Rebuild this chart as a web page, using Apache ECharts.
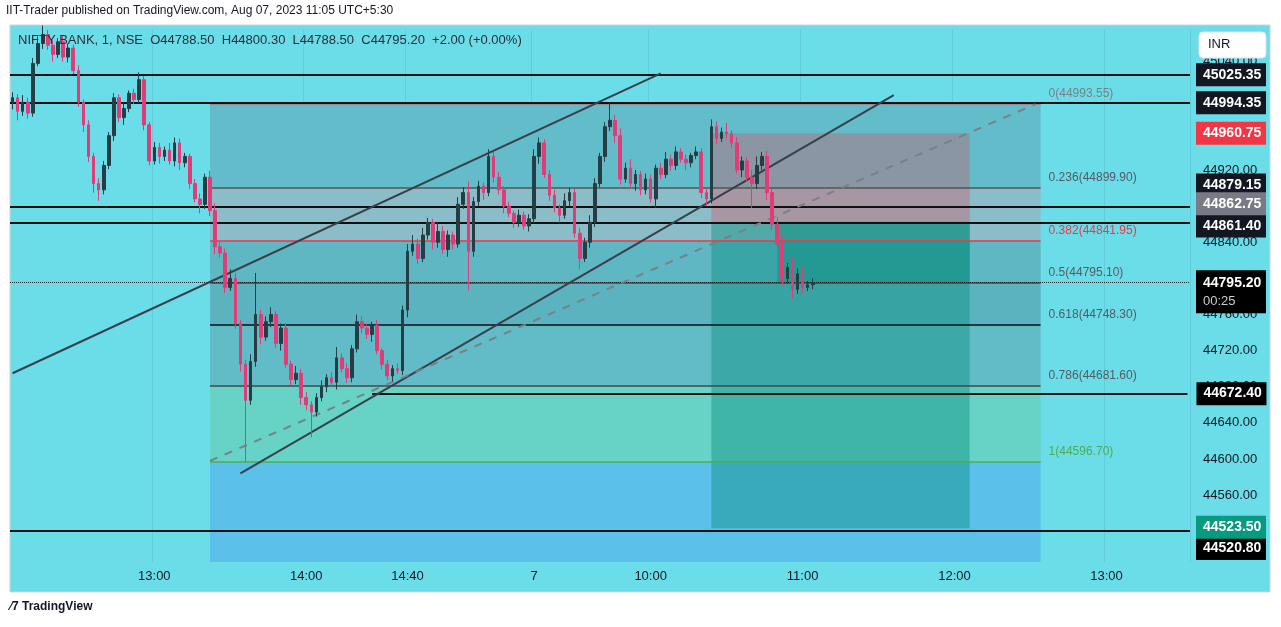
<!DOCTYPE html>
<html><head><meta charset="utf-8">
<script src="https://cdn.jsdelivr.net/npm/echarts@6/dist/echarts.min.js"></script>
<style>html,body{margin:0;padding:0;background:#fff}#c{width:1281px;height:627px}</style>
</head><body><div id="c"></div>
<script>
const closes=[45000,44985,44995,44983,45038,45060,45070,45058,45048,45062,
45045,45055,45030,44995,44970,44935,44905,44898,44925,44958,
45000,44978,44988,45005,44998,45020,44970,44930,44945,44935,
44942,44930,44950,44928,44935,44905,44888,44882,44912,44875,
44835,44828,44790,44800,44750,44705,44665,44708,44760,44735,
44752,44760,44728,44745,44705,44688,44695,44668,44660,44652,
44668,44680,44690,44685,44712,44700,44690,44722,44752,44745,
44738,44748,44720,44705,44692,44700,44698,44765,44830,44838,
44822,44848,44862,44840,44852,44832,44848,44838,44882,44895,
44830,44885,44902,44895,44935,44912,44898,44880,44872,44862,
44870,44858,44866,44935,44950,44915,44892,44878,44870,44886,
44895,44850,44822,44840,44862,44905,44935,44968,44975,44958,
44910,44922,44905,44915,44898,44910,44888,44922,44915,44932,
44925,44940,44932,44928,44936,44940,44895,44888,44968,44955,
44962,44960,44950,44920,44930,44912,44905,44925,44935,44895,
44860,44838,44800,44812,44788,44805,44790,44793,44795];
const firstOpen=44995;
const hiExt=[6,4,8,5,6,8,10,5,6,4,7,5,4,6,3,5,4,6,5,4,5,4,6,3,5,8,4,3,6,5,4,8,6,5,4,3,5,6,4,7,
8,6,5,10,6,4,5,8,46,5,6,8,4,5,6,4,8,5,6,4,5,7,4,6,12,5,6,4,8,6,5,4,6,3,5,4,6,5,8,10,
6,8,5,4,10,6,5,4,8,6,12,5,6,4,8,5,6,4,5,3,6,4,5,8,6,4,5,6,4,8,5,4,6,5,8,6,4,5,19,6,
8,6,10,5,4,6,5,4,6,8,5,6,4,5,3,6,4,5,8,6,5,10,4,6,5,4,8,10,5,6,4,8,10,5,12,6,8,4,5];
const loExt=[8,10,5,6,4,3,6,5,8,4,5,6,4,5,8,6,10,12,5,4,6,5,8,4,5,4,6,5,4,8,5,4,6,8,5,6,4,10,5,6,
8,5,6,4,6,8,68,5,6,8,4,6,5,8,4,6,5,8,6,28,5,4,6,5,8,4,6,5,4,6,5,8,4,6,5,6,4,5,8,5,
6,4,5,8,6,5,8,6,4,5,43,6,5,8,4,6,5,8,4,6,5,4,6,5,8,4,6,5,8,4,6,5,12,4,6,5,4,6,5,8,
6,4,5,8,6,5,4,10,5,4,6,5,4,8,5,4,6,8,5,6,4,5,6,4,8,5,27,6,5,8,6,5,8,6,10,5,6,4,5];
const tickLabels={28:'13:00',58:'14:00',78:'14:40',103:'7',126:'10:00',156:'11:00',186:'12:00',216:'13:00'};
const priceTicks=[44560,44600,44640,44680,44720,44760,44840,44920,45040];
const fibLevels=[0,0.236,0.382,0.5,0.618,0.786,1];
const fibPrices=[44993.55,44899.90,44841.95,44795.10,44748.30,44681.60,44596.70];
const fibBottom=44486;
const line44672=44672.40;
const posStop=44960.75, posEntry=44862.75, posTarget=44523.50, lastPrice=44795.20;

const cats=[];
function fmt(t){const h=Math.floor(t/60),m=t%60;return (h<10?'0':'')+h+':'+(m<10?'0':'')+m;}
for(let t=12*60+4;t<=15*60+28;t+=2)cats.push('A '+fmt(t));
for(let t=9*60+15;t<=11*60+5;t+=2)cats.push('B '+fmt(t));
for(let t=11*60+7;t<=13*60+33;t+=2)cats.push('C '+fmt(t));
const candles=cats.map((c,i)=>{
  if(i>=closes.length)return '-';
  const o=i===0?firstOpen:closes[i-1], cl=closes[i];
  return [o,cl,Math.min(o,cl)-loExt[i],Math.max(o,cl)+hiExt[i]];
});
const X=i=>cats[i];
const fibA=39,fibB=203,posA=138,posB=189,posNow=151;
const fibFill=['#63bcc9','#8bbdc9','#5fb7c4','#5cb3c0','#62bcc8','#66d3c6','#5bc0ea'];
const fibLineCol=['#8a8f98','#555','#f23645','#444','#111','#444','#4caf50'];
const fibTextCol=['#7b8088','#555b63','#f23645','#555b63','#555b63','#555b63','#4caf50'];
const areas=[];
for(let k=0;k<fibPrices.length;k++){
  const top=fibPrices[k], bot=k<fibPrices.length-1?fibPrices[k+1]:fibBottom;
  areas.push([{xAxis:X(fibA),yAxis:top,itemStyle:{color:fibFill[k]}},{xAxis:X(fibB),yAxis:bot}]);
}
const posAreas=[
 [{xAxis:X(posA),yAxis:posStop,itemStyle:{color:'rgba(242,54,69,0.28)'}},{xAxis:X(posB),yAxis:posEntry}],
 [{xAxis:X(posA),yAxis:posEntry,itemStyle:{color:'rgba(8,140,125,0.42)'}},{xAxis:X(posB),yAxis:posTarget}],
 [{xAxis:X(posNow),yAxis:posEntry,itemStyle:{color:'rgba(8,140,125,0.45)'}},{xAxis:X(posB),yAxis:lastPrice}]
];
const fibLines=fibPrices.map((p,k)=>[
 {coord:[X(fibA),p],lineStyle:{color:fibLineCol[k],width:k===0?2:1.5,type:'solid'},
  label:{show:true,position:'end',formatter:fibLevels[k]+'('+p.toFixed(2)+')',color:fibTextCol[k],fontSize:12,distance:8,offset:[0,-10]}},
 {coord:[X(fibB),p]}]);
const trend=[
 [{coord:[X(6),45078]},{coord:[X(37),44991]}],
 [{coord:[X(0),44695]},{coord:[X(128),45027]}],
 [{coord:[X(45),44584]},{coord:[X(174),45003]}]
];
const dashed=[[{coord:[X(39),44598]},{coord:[X(202),44993]}]];
function box(bg,off,txt){return {show:true,position:'end',distance:6,formatter:txt,backgroundColor:bg,color:'#fff',fontSize:14,fontWeight:'bold',padding:[5,7,4,7],offset:off||[0,0],width:56};}
const HIDE={color:'rgba(0,0,0,0)'};
const priceLines=[
 {yAxis:45025.35,label:box('#131722',[0,0],'45025.35')},
 {yAxis:44994.35,label:box('#131722',[0,0],'44994.35')},
 {yAxis:44879.15,label:box('#131722',[0,-22],'44879.15')},
 {yAxis:44861.40,label:box('#131722',[0,3],'44861.40')},
 {yAxis:44520.80,label:box('#000',[0,18],'44520.80')},
 [{coord:[X(71),line44672],label:box('#000',[3,0],'44672.40')},{coord:[X(232),line44672]}],
 {yAxis:lastPrice,lineStyle:{type:'dotted',color:'#222',width:1},label:{show:true,position:'end',distance:6,formatter:'44795.20\n{s|00:25}',backgroundColor:'#000',color:'#fff',fontSize:14,fontWeight:'bold',padding:[4,7,3,7],offset:[0,9],lineHeight:18,width:56,rich:{s:{color:'#ccc',fontSize:13,fontWeight:'normal',lineHeight:18}}}},
 {yAxis:posStop,lineStyle:HIDE,label:box('#f23645',[0,0],'44960.75')},
 {yAxis:posEntry,lineStyle:HIDE,label:box('#787b86',[0,-18],'44862.75')},
 {yAxis:posTarget,lineStyle:HIDE,label:box('#089981',[0,-1],'44523.50')}
];
const chart=echarts.init(document.getElementById('c'),null,{renderer:'canvas'});
const F='"Liberation Sans", Arial, sans-serif';
chart.setOption({
 animation:false,
 textStyle:{fontFamily:F},
 graphic:[
  {type:'rect',z:-100,shape:{x:10,y:25,width:1260,height:567},style:{fill:'#6adde8',stroke:'#cfd3d8'}},
  {type:'text',left:6,top:5,style:{text:'IIT-Trader published on TradingView.com, Aug 07, 2023 11:05 UTC+5:30',fill:'#131722',font:'12px '+F}},
  {type:'text',left:18,top:34,z:100,style:{text:'NIFTY BANK, 1, NSE  O44788.50  H44800.30  L44788.50  C44795.20  +2.00 (+0.00%)',fill:'#2a2e39',font:'13px '+F}},
  {type:'rect',z:100,shape:{x:1199,y:32,width:67,height:26,r:4},style:{fill:'#fff',stroke:'#e0e3eb'}},
  {type:'text',z:101,left:1208,top:38,style:{text:'INR',fill:'#131722',font:'13px '+F}},
  {type:'text',left:10,top:601,style:{text:'⁄7 TradingView',fill:'#131722',font:'bold 12px '+F}}
 ],
 grid:{left:10,right:91,top:30,bottom:65},
 xAxis:{type:'category',data:cats,boundaryGap:true,
  axisLine:{show:false},axisTick:{show:false},
  axisLabel:{interval:0,margin:8,color:'#131722',fontSize:13,
   formatter:(v,i)=>tickLabels[i]||''},
  splitLine:{show:true,interval:(i)=>tickLabels[i]!==undefined,lineStyle:{color:'rgba(40,90,110,0.12)'}}},
 yAxis:{type:'value',position:'right',min:44486,max:45075,scale:true,
  axisLine:{show:false},axisTick:{show:false},
  axisLabel:{customValues:priceTicks,formatter:v=>v.toFixed(2),color:'#131722',fontSize:13,margin:13},
  splitLine:{show:false}},
 series:[
  {type:'line',data:[],z:1,silent:true,
   markArea:{silent:true,data:areas},
   markLine:{silent:true,symbol:'none',data:fibLines}},
  {type:'line',data:[],z:2,silent:true,
   markArea:{silent:true,data:posAreas}},
  {type:'line',data:[],z:3,silent:true,
   markLine:{silent:true,symbol:'none',lineStyle:{color:'#111',width:2,type:'solid'},label:{show:false},data:priceLines}},
  {type:'candlestick',data:candles,z:5,barWidth:'62%',
   itemStyle:{color:'#253e44',color0:'#e13c78',borderColor:'#253e44',borderColor0:'#e13c78',borderWidth:1}},
  {type:'line',data:[],z:6,silent:true,
   markLine:{silent:true,symbol:'none',label:{show:false},lineStyle:{color:'#3a3f48',width:2,type:'solid'},data:trend}},
  {type:'line',data:[],z:6,silent:true,
   markLine:{silent:true,symbol:'none',label:{show:false},lineStyle:{color:'#7a7f88',width:2,type:[8,8]},data:dashed}}
 ]
});
</script></body></html>
